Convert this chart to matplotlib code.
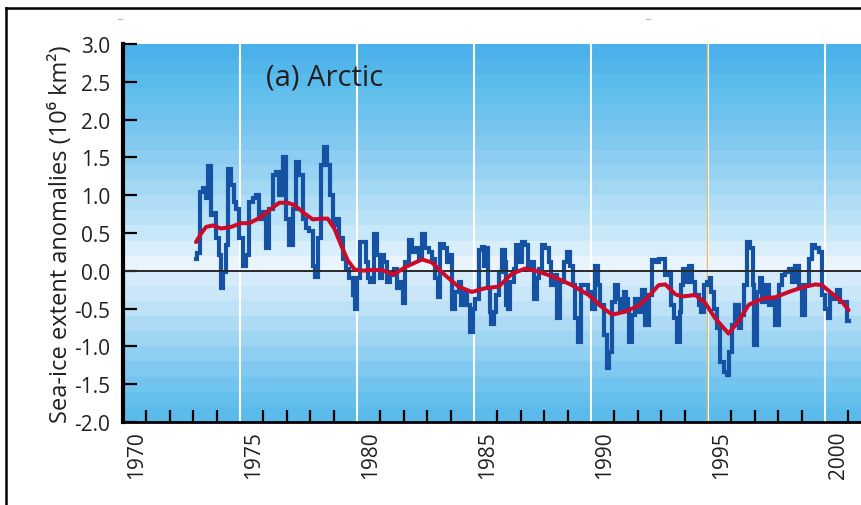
import numpy as np
import matplotlib
matplotlib.use("Agg")
import matplotlib.pyplot as plt
from matplotlib.lines import Line2D

plt.rcParams['font.family'] = ['Open Sans', 'DejaVu Sans']

# Monthly sea-ice extent anomalies (10^6 km^2), decimal years
anom_year = [
    1973.12, 1973.22, 1973.33, 1973.48, 1973.59, 1973.69, 1973.79, 1973.93,
    1974.05, 1974.15, 1974.22, 1974.33, 1974.44, 1974.56, 1974.67, 1974.79,
    1974.90, 1975.04, 1975.19, 1975.33, 1975.47, 1975.61, 1975.75, 1975.90,
    1976.04, 1976.18, 1976.32, 1976.47, 1976.61, 1976.75, 1976.89, 1977.04,
    1977.18, 1977.32, 1977.46, 1977.61, 1977.75, 1977.89, 1978.03, 1978.18,
    1978.25, 1978.39, 1978.53, 1978.63, 1978.77, 1978.89, 1979.03, 1979.17,
    1979.32, 1979.46, 1979.60, 1979.74, 1979.89, 1979.93,
    1980.07, 1980.21, 1980.36, 1980.43, 1980.50, 1980.64, 1980.78, 1980.93,
    1981.00, 1981.14, 1981.21, 1981.35, 1981.50, 1981.64, 1981.78, 1981.92,
    1981.99, 1982.14, 1982.28, 1982.42, 1982.56, 1982.71, 1982.85, 1982.99,
    1983.13, 1983.28, 1983.42, 1983.49, 1983.63, 1983.77, 1983.92, 1983.99,
    1984.13, 1984.27, 1984.42, 1984.49, 1984.63, 1984.77, 1984.91, 1984.99,
    1985.13, 1985.27, 1985.41, 1985.48, 1985.56, 1985.63, 1985.70, 1985.77,
    1985.91, 1985.98, 1986.13, 1986.27, 1986.34, 1986.41, 1986.48, 1986.62,
    1986.77, 1986.84, 1986.98, 1987.12, 1987.26, 1987.34, 1987.48, 1987.62,
    1987.76, 1987.83, 1987.98, 1988.12, 1988.26, 1988.33, 1988.48, 1988.62,
    1988.76, 1988.90, 1989.05, 1989.19, 1989.26, 1989.40, 1989.50, 1989.62,
    1989.76, 1989.97, 1990.11, 1990.26, 1990.33, 1990.47, 1990.61, 1990.75,
    1990.83, 1990.97, 1991.11, 1991.18, 1991.32, 1991.47, 1991.54, 1991.61,
    1991.68, 1991.82, 1991.97, 1992.11, 1992.25, 1992.39, 1992.53, 1992.68,
    1992.82, 1992.96, 1993.11, 1993.25, 1993.39, 1993.46, 1993.60, 1993.75,
    1993.82, 1993.89, 1993.96, 1994.10, 1994.25, 1994.39, 1994.53, 1994.67,
    1994.74, 1994.89, 1995.03, 1995.10, 1995.17, 1995.31, 1995.46, 1995.60,
    1995.74, 1995.88, 1995.95, 1996.10, 1996.24, 1996.38, 1996.45, 1996.60,
    1996.74, 1996.88, 1996.95, 1997.02, 1997.17, 1997.24, 1997.38, 1997.52,
    1997.66, 1997.81, 1997.95, 1998.09, 1998.23, 1998.38, 1998.52, 1998.66,
    1998.80, 1998.95, 1999.09, 1999.23, 1999.37, 1999.52, 1999.66, 1999.80,
    1999.94, 2000.09, 2000.16, 2000.30, 2000.44, 2000.58, 2000.73, 2000.87,
    2001.01,
]
anom_value = [
    0.16, 0.23, 1.04, 1.09, 0.96, 1.38, 0.74, 0.76,
    0.43, 0.21, -0.23, -0.01, 0.34, 1.35, 1.13, 0.91,
    0.82, 0.43, 0.07, 0.21, 0.91, 0.96, 1.00, 0.69,
    0.78, 0.30, 0.82, 1.27, 1.31, 1.00, 1.51, 0.69,
    0.34, 0.82, 1.44, 1.27, 0.69, 0.56, 0.52, 0.07,
    -0.08, 0.43, 1.40, 1.64, 1.40, 1.00, 0.60, 0.69,
    0.43, 0.16, 0.03, -0.10, -0.32, -0.50,
    -0.10, 0.38, 0.38, 0.12, -0.10, -0.15, 0.49, 0.21,
    -0.10, 0.21, 0.12, -0.15, -0.06, 0.03, -0.23, -0.15,
    -0.43, 0.12, 0.41, 0.25, 0.30, 0.16, 0.49, 0.30,
    0.25, 0.16, -0.10, -0.34, 0.36, 0.30, 0.12, 0.21,
    -0.50, -0.28, -0.15, -0.45, -0.30, -0.45, -0.81, -0.50,
    -0.37, 0.27, 0.32, 0.07, 0.30, -0.23, -0.54, -0.70,
    -0.54, -0.32, -0.01, 0.27, 0.12, -0.45, -0.50, -0.15,
    0.03, 0.34, 0.12, 0.38, 0.34, 0.03, 0.12, -0.37,
    -0.10, 0.03, 0.34, 0.30, 0.12, -0.19, -0.06, -0.63,
    -0.15, 0.12, 0.25, 0.07, -0.19, -0.63, -0.94, -0.19,
    -0.19, -0.28, -0.50, 0.07, -0.19, -0.45, -0.85, -1.29,
    -1.07, -0.41, -0.19, -0.37, -0.50, -0.28, -0.37, -0.50,
    -0.94, -0.59, -0.37, -0.54, -0.26, -0.72, -0.32, 0.14,
    0.12, 0.16, 0.16, -0.06, -0.01, -0.45, -0.63, -0.94,
    -0.54, -0.19, 0.03, -0.15, 0.07, -0.15, -0.32, -0.45,
    -0.54, -0.19, -0.15, -0.10, -0.28, -0.50, -0.76, -1.20,
    -1.34, -1.38, -1.07, -0.72, -0.45, -0.76, -0.59, -0.19,
    0.38, 0.30, -0.19, -0.98, -0.28, -0.10, -0.41, -0.19,
    -0.45, -0.37, -0.72, -0.19, -0.06, -0.01, 0.03, -0.15,
    0.07, -0.19, -0.59, -0.19, 0.16, 0.34, 0.30, 0.25,
    -0.32, -0.50, -0.63, -0.32, -0.37, -0.26, -0.41, -0.41,
    -0.67,
]

# Smoothed anomaly curve
smooth_year = [
    1973.12, 1973.33, 1973.55, 1973.83, 1974.19, 1974.62, 1975.04, 1975.40,
    1975.90, 1976.32, 1976.68, 1977.04, 1977.32, 1977.75, 1978.11, 1978.46,
    1978.75, 1979.03, 1979.32, 1979.60, 1979.89, 1980.17, 1980.50, 1981.07,
    1981.57, 1982.07, 1982.78, 1983.20, 1983.77, 1984.34, 1984.91, 1985.48,
    1986.05, 1986.62, 1987.19, 1987.76, 1988.48, 1989.19, 1989.90, 1990.47,
    1990.90, 1991.47, 1992.04, 1992.46, 1992.89, 1993.18, 1993.60, 1993.89,
    1994.46, 1994.89, 1995.31, 1995.88, 1996.30, 1996.74, 1997.31, 1997.88,
    1998.45, 1999.02, 1999.59, 1999.87, 2000.30, 2000.73, 2001.01,
]
smooth_value = [
    0.38, 0.49, 0.58, 0.60, 0.56, 0.58, 0.63, 0.63,
    0.71, 0.82, 0.90, 0.90, 0.87, 0.76, 0.68, 0.69,
    0.69, 0.56, 0.34, 0.14, 0.02, 0.00, 0.01, 0.01,
    -0.05, 0.05, 0.15, 0.11, -0.06, -0.21, -0.28, -0.23,
    -0.21, -0.04, 0.03, -0.01, -0.09, -0.19, -0.32, -0.48,
    -0.58, -0.54, -0.46, -0.34, -0.19, -0.18, -0.31, -0.34,
    -0.32, -0.43, -0.63, -0.83, -0.67, -0.45, -0.37, -0.35,
    -0.28, -0.22, -0.18, -0.19, -0.30, -0.41, -0.52,
]

year_labels = [1970, 1975, 1980, 1985, 1990, 1995, 2000]
y_ticks = [3.0, 2.5, 2.0, 1.5, 1.0, 0.5, 0.0, -0.5, -1.0, -1.5, -2.0]

TEXT = '#231f20'
W, H = 862, 506
fig = plt.figure(figsize=(W / 100, H / 100), dpi=100)
fig.patch.set_facecolor('white')

x0_px, x_per_year = 123, 23.4
ax = fig.add_axes([x0_px / W, (H - 423) / H, 1 - x0_px / W, (423 - 45) / H])
x_max = 1970 + (W - x0_px) / x_per_year
ax.set_xlim(1970, x_max)
ax.set_ylim(-2.0, 3.0)

# Banded blue background, light around zero and deeper toward the edges
stop_v = [-2.0, -1.5, -1.0, -0.5, -0.1, 0.1, 0.5, 1.0, 1.5, 2.0, 2.5, 3.0]
stop_rgb = np.array([
    (85, 184, 236), (112, 196, 238), (150, 210, 243), (190, 226, 248),
    (214, 235, 251), (234, 245, 252), (198, 232, 248), (168, 219, 245),
    (140, 205, 241), (114, 196, 238), (90, 188, 236), (72, 175, 234),
]) / 255.0
edges = np.arange(-2.0, 3.0001, 0.2)
centers = (edges[:-1] + edges[1:]) / 2
band_rgb = np.stack([np.interp(centers, stop_v, stop_rgb[:, k]) for k in range(3)], axis=1)
ax.imshow(band_rgb[::-1, None, :], extent=[1970, x_max, -2.0, 3.0],
          aspect='auto', interpolation='nearest', zorder=0)

# Vertical guide lines every five years
for yr in year_labels[1:]:
    ax.axvline(yr, color='white', lw=1.5, zorder=1)
ax.axvline(1995 - 0.035, color='#e8b860', lw=0.9, zorder=1.1)

ax.plot(anom_year, anom_value, color='#1552a3', lw=3.0, zorder=2,
        drawstyle='steps-mid', solid_joinstyle='miter')
ax.axhline(0, color='#2a2a2a', lw=1.4, zorder=3)
ax.plot(smooth_year, smooth_value, color='#cc0a2a', lw=2.9, zorder=4,
        solid_capstyle='round')

# Axes styling
for side in ('top', 'right'):
    ax.spines[side].set_visible(False)
ax.spines['left'].set_linewidth(3.0)
ax.spines['bottom'].set_linewidth(2.0)
ax.spines['left'].set_zorder(5)
ax.spines['bottom'].set_zorder(5)

ax.set_yticks(y_ticks)
ax.set_yticklabels([f'{v:.1f}' for v in y_ticks])
ax.tick_params(axis='y', direction='in', length=10, width=1.6, pad=9,
               labelsize=15, labelcolor=TEXT, color='black')

label_pos = [yr + 0.57 for yr in year_labels]
ax.set_xticks(label_pos)
ax.set_xticklabels([str(y) for y in year_labels], rotation=90, va='top', ha='center')
ax.tick_params(axis='x', which='major', length=0, pad=6, labelsize=15,
               labelcolor=TEXT)
minor_years = [yr for yr in range(1971, 2002) if yr % 5 != 0]
ax.set_xticks(minor_years, minor=True)
ax.tick_params(axis='x', which='minor', direction='in', length=8.5, width=1.6,
               color='black')

ax.set_ylabel('Sea-ice extent anomalies (10\u2076 km\u00b2)', fontsize=17,
              color=TEXT, labelpad=1)

ax.text(1976.1, 2.57, '(a) Arctic', fontsize=21, color=TEXT, va='center',
        ha='left', zorder=6)

# Page frame
fig.add_artist(Line2D([6 / W, 1.0], [1 - 9 / H, 1 - 9 / H], color='black',
                      lw=1.8, transform=fig.transFigure))
fig.add_artist(Line2D([6 / W, 6 / W], [0.0, 1 - 9 / H], color='black',
                      lw=1.8, transform=fig.transFigure))
for px in (120, 648):
    fig.add_artist(Line2D([(px - 2) / W, (px + 2) / W], [1 - 20 / H, 1 - 20 / H],
                          color='#b0b0b0', lw=0.8, transform=fig.transFigure))

fig.savefig('out.png', dpi=100)
